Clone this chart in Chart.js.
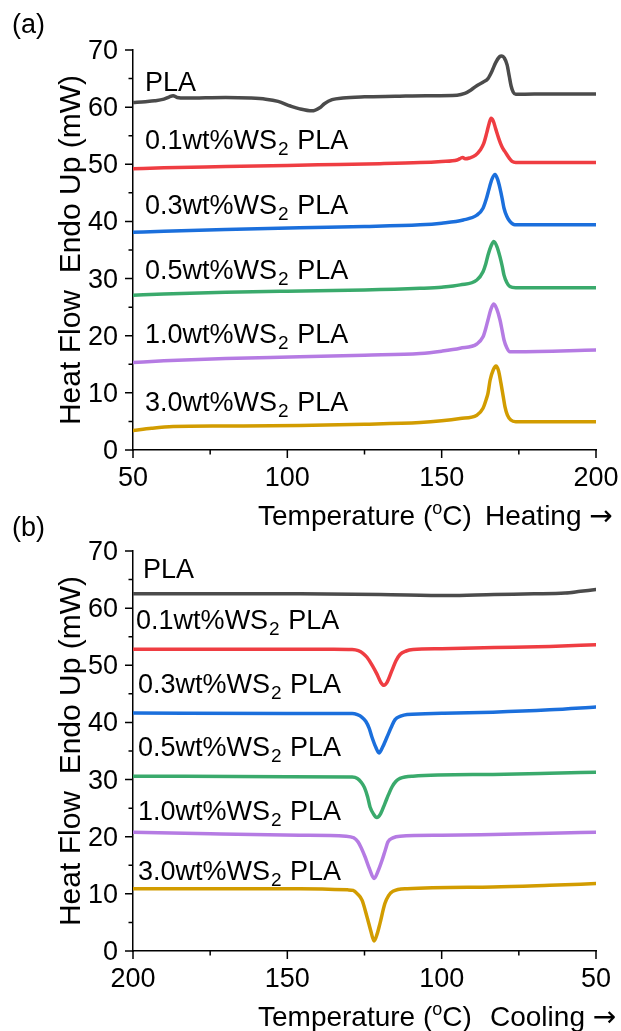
<!DOCTYPE html>
<html>
<head>
<meta charset="utf-8">
<script src="https://cdn.jsdelivr.net/npm/chart.js@4.4.1/dist/chart.umd.min.js"></script>
<style>
  html, body { margin: 0; padding: 0; background: #fff; }
  #page { position: relative; width: 621px; height: 1031px; }
  canvas { display: block; position: absolute; left: 0; }
  #heat { top: 0; }
  #cool { top: 501px; }
</style>
</head>
<body>
<div id="page">
  <canvas id="heat" width="621" height="545"></canvas>
  <canvas id="cool" width="621" height="530"></canvas>
</div>
<script>
// sample names (WS2 gets a subscript 2 when drawn)
const sampleNames = ['PLA', '0.1wt%WS2 PLA', '0.3wt%WS2 PLA', '0.5wt%WS2 PLA', '1.0wt%WS2 PLA', '3.0wt%WS2 PLA'];

// heating scan, [temperature C, heat flow mW]
const heatPLA = [[50,60.8],[54,60.95],[57,61.1],[60,61.4],[61.8,61.8],[63,62.0],[64.3,61.7],[67,61.6],[80,61.7],[88,61.6],[93,61.4],[97,61.0],[101,60.2],[104,59.7],[108,59.35],[110.5,59.9],[112,60.6],[114.5,61.3],[118,61.6],[125,61.8],[135,61.9],[145,62.0],[155,62.1],[157.5,62.4],[159.5,63.0],[161.5,63.8],[163.5,64.4],[165,65.0],[166.3,66.3],[167.5,67.8],[168.7,68.8],[169.5,68.95],[170.3,68.6],[171.2,67.4],[171.9,65.4],[172.5,63.7],[173.2,62.6],[174,62.25],[180,62.3],[200,62.3]];
const heat01 = [[50,49.2],[60,49.4],[80,49.6],[100,49.8],[110,49.9],[130,50.1],[143,50.3],[150,50.5],[155,50.75],[156.3,51.1],[156.8,51.2],[157.6,50.95],[159,51.1],[161,51.6],[162.5,52.5],[163.6,53.6],[164.6,55.5],[165.4,57.2],[166,58.05],[166.7,57.6],[167.5,56.2],[168.5,54.5],[169.5,53.1],[170.4,52.3],[171,51.8],[172,51.0],[172.8,50.5],[174,50.3],[200,50.3]];
const heat03 = [[50,38.1],[60,38.3],[80,38.6],[104,38.9],[125,39.1],[143,39.4],[150,39.7],[157,40.25],[161.4,41.1],[163.4,42.3],[164.5,44.0],[165.3,45.6],[166.3,47.4],[167.3,48.2],[168.1,47.4],[168.9,45.8],[169.6,44.0],[170.2,42.3],[171.1,40.9],[172.1,40.0],[173.7,39.4],[200,39.4]];
const heat05 = [[50,27.1],[60,27.3],[80,27.6],[100,27.8],[125,28.0],[143,28.3],[150,28.5],[156,28.9],[161.4,29.75],[163.4,31.2],[164.3,32.6],[165,34.1],[166,35.7],[166.9,36.5],[167.9,35.6],[168.9,33.8],[169.6,32.2],[170.2,30.6],[171.1,29.3],[172.1,28.6],[174,28.4],[200,28.4]];
const heat10 = [[50,15.3],[60,15.6],[80,16.0],[104,16.3],[125,16.6],[143,16.9],[150,17.3],[156,17.8],[161.4,18.55],[163.4,19.8],[164.3,21.3],[165,22.75],[166,24.7],[166.9,25.55],[167.9,24.6],[168.9,22.75],[169.6,20.9],[170.2,19.25],[171.1,17.9],[172.1,17.2],[174,17.2],[200,17.5]];
const heat30 = [[50,3.4],[56,3.8],[63,4.1],[80,4.2],[104,4.3],[125,4.5],[143,4.8],[150,5.1],[156,5.5],[161.4,6.1],[163.4,7.3],[164.4,8.8],[165,9.9],[165.7,12.25],[166.7,14.0],[167.6,14.7],[168.4,13.9],[169.2,11.7],[169.9,9.5],[170.5,7.6],[171.3,6.1],[172.4,5.25],[174,4.95],[200,4.95]];

// cooling scan, [temperature C, heat flow mW]
const coolPLA = [[200,62.5],[170,62.5],[146,62.5],[120,62.4],[98,62.2],[83,62.4],[70,62.5],[60,62.65],[55,62.95],[50,63.25]];
const cool01 = [[200,52.8],[160,52.8],[135,52.8],[129,52.75],[127,52.55],[125.5,52.1],[124.2,51.4],[122.5,50.0],[121,48.5],[119.7,47.0],[118.7,46.5],[117.7,47.0],[116.1,49.1],[114.8,50.8],[113.5,51.9],[111.5,52.5],[109.3,52.75],[100,52.9],[83,53.1],[65,53.3],[50,53.6]];
const cool03 = [[200,41.65],[150,41.55],[129,41.55],[127.3,41.35],[125.8,40.9],[124.6,40.2],[123.5,39.0],[122.6,37.45],[121.3,35.6],[120.3,34.65],[119.2,35.6],[117.7,37.45],[116.3,39.2],[115.1,40.5],[113.3,41.1],[111.2,41.4],[100,41.6],[83.4,41.8],[65,42.2],[50,42.7]];
const cool05 = [[200,30.6],[150,30.5],[129,30.45],[127.3,30.2],[126,29.5],[125,28.6],[124,27.0],[123.2,25.2],[122,23.9],[121,23.35],[119.8,24.0],[118.4,25.8],[117.2,27.4],[116.1,28.7],[114.8,29.7],[113.5,30.2],[109.3,30.6],[83.4,30.9],[65,31.1],[50,31.3]];
const cool10 = [[200,20.8],[175,20.5],[146,20.25],[131,20.1],[128.5,19.8],[127.1,19.1],[126,18.0],[124.8,16.45],[123.4,14.4],[121.9,12.7],[120.6,14.0],[119.3,15.9],[118.3,17.6],[117.4,19.1],[115.8,19.8],[113.5,20.1],[100,20.25],[83.4,20.4],[65,20.6],[50,20.8]];
const cool30 = [[200,10.9],[146,10.9],[130.5,10.7],[128.7,10.6],[127.3,10.0],[125.8,8.9],[124.2,6.0],[123,3.6],[121.9,1.75],[120.9,3.0],[120,4.8],[118.4,8.3],[117.2,9.7],[115.8,10.45],[111.2,10.9],[83.4,11.2],[65,11.5],[50,11.8]];

// where the sample names sit, in axis units
const heatLabelT = [53.9, 53.9, 53.9, 53.9, 53.9, 53.9];
const heatLabelY = [62.9, 52.7, 41.3, 29.9, 18.7, 6.8];
const coolLabelT = [196.8, 199.0, 198.4, 198.4, 198.4, 198.4];
const coolLabelY = [65.2, 56.3, 45.2, 34.1, 22.9, 12.4];

// axis ticks
const tempMajor = [50, 100, 150, 200];
const tempMinor = [75, 125, 175];
const flowMajor = [0, 10, 20, 30, 40, 50, 60, 70];
const flowMinor = [5, 15, 25, 35, 45, 55, 65];

const colors = ['#4b4b4b', '#ef3d42', '#1b6fdc', '#3aaa6c', '#b57be3', '#d29c00'];
const FONT = "'Liberation Sans', Arial, sans-serif";
const ARROW_FONT = "'DejaVu Sans', sans-serif";

function toPoints(arr) {
  return arr.map(p => ({ x: p[0], y: p[1] }));
}

// draw a run of text pieces of different size / vertical offset
function drawParts(ctx, x, y, parts) {
  ctx.textAlign = 'left';
  ctx.textBaseline = 'alphabetic';
  parts.forEach(p => {
    ctx.font = p.size + 'px ' + (p.family || FONT);
    ctx.fillText(p.text, x, y + (p.dy || 0));
    x += ctx.measureText(p.text).width + (p.gap || 0);
  });
}

function nameParts(name) {
  const i = name.indexOf('WS2');
  if (i < 0) return [{ text: name, size: 27 }];
  return [
    { text: name.slice(0, i + 2), size: 27, gap: 1 },
    { text: '2', size: 19, dy: 6, gap: 1 },
    { text: name.slice(i + 3), size: 27 }
  ];
}

function decorPlugin(cfg) {
  return {
    id: 'decor',
    afterDraw(chart) {
      const ctx = chart.ctx;
      const xs = chart.scales.x, ys = chart.scales.y;
      const area = chart.chartArea;
      ctx.save();
      ctx.strokeStyle = '#000';
      ctx.lineWidth = 1.5;
      ctx.beginPath();
      tempMajor.forEach(t => { const px = xs.getPixelForValue(t); ctx.moveTo(px, area.bottom); ctx.lineTo(px, area.bottom + 8); });
      tempMinor.forEach(t => { const px = xs.getPixelForValue(t); ctx.moveTo(px, area.bottom); ctx.lineTo(px, area.bottom + 4.5); });
      flowMajor.forEach(v => { const py = ys.getPixelForValue(v); ctx.moveTo(area.left, py); ctx.lineTo(area.left - 8, py); });
      flowMinor.forEach(v => { const py = ys.getPixelForValue(v); ctx.moveTo(area.left, py); ctx.lineTo(area.left - 4.5, py); });
      ctx.stroke();

      // tick labels
      ctx.fillStyle = '#000';
      ctx.font = '27px ' + FONT;
      ctx.textBaseline = 'alphabetic';
      ctx.textAlign = 'center';
      tempMajor.forEach(t => ctx.fillText(String(t), xs.getPixelForValue(t), area.bottom + 36));
      ctx.textAlign = 'right';
      flowMajor.forEach(v => ctx.fillText(String(v), area.left - 15, ys.getPixelForValue(v) + 9));

      sampleNames.forEach((name, i) => {
        drawParts(ctx, xs.getPixelForValue(cfg.labelT[i]), ys.getPixelForValue(cfg.labelY[i]), nameParts(name));
      });

      // x title
      const by = area.bottom + 75;
      drawParts(ctx, 258, by, [
        { text: 'Temperature (', size: 28 },
        { text: 'o', size: 18, dy: -11 },
        { text: 'C)', size: 28 }
      ]);
      drawParts(ctx, cfg.dirX, by, [
        { text: cfg.dir + ' ', size: 28 },
        { text: '\u2192', size: 28, family: ARROW_FONT }
      ]);

      // y title
      ctx.save();
      ctx.translate(80, (area.top + area.bottom) / 2);
      ctx.rotate(-Math.PI / 2);
      ctx.font = '30px ' + FONT;
      ctx.textAlign = 'center';
      ctx.textBaseline = 'alphabetic';
      ctx.fillText('Heat Flow  Endo Up (mW)', 0, 0);
      ctx.restore();

      drawParts(ctx, 12, cfg.panelY, [{ text: cfg.panel, size: 27 }]);
      ctx.restore();
    }
  };
}

function makeChart(id, series, cfg) {
  const datasets = series.map((s, i) => ({
    data: toPoints(s),
    borderColor: colors[i],
    borderWidth: 3.5,
    pointRadius: 0,
    fill: false,
    cubicInterpolationMode: 'monotone',
    borderCapStyle: 'round',
    borderJoinStyle: 'round'
  }));
  return new Chart(document.getElementById(id), {
    type: 'line',
    data: { datasets },
    options: {
      responsive: false,
      animation: false,
      events: [],
      layout: { padding: { top: 50, right: 25, left: 0, bottom: 0 } },
      plugins: { legend: { display: false }, tooltip: { enabled: false } },
      scales: {
        x: {
          type: 'linear', position: 'bottom', min: 50, max: 200, reverse: cfg.reverse,
          ticks: { display: false, stepSize: 50 },
          grid: { display: false, drawTicks: false },
          border: { display: true, color: '#000', width: 1.5 },
          afterFit: s => { s.height = cfg.xHeight; }
        },
        y: {
          position: 'left', min: 0, max: 70,
          ticks: { display: false, stepSize: 10 },
          grid: { display: false, drawTicks: false },
          border: { display: true, color: '#000', width: 1.5 },
          afterFit: s => { s.width = 133; }
        }
      }
    },
    plugins: [decorPlugin(cfg)]
  });
}

makeChart('heat', [heatPLA, heat01, heat03, heat05, heat10, heat30], {
  reverse: false, xHeight: 95, labelT: heatLabelT, labelY: heatLabelY,
  dir: 'Heating', dirX: 485, panel: '(a)', panelY: 33
});
makeChart('cool', [coolPLA, cool01, cool03, cool05, cool10, cool30], {
  reverse: true, xHeight: 80, labelT: coolLabelT, labelY: coolLabelY,
  dir: 'Cooling', dirX: 490, panel: '(b)', panelY: 35
});
</script>
</body>
</html>
